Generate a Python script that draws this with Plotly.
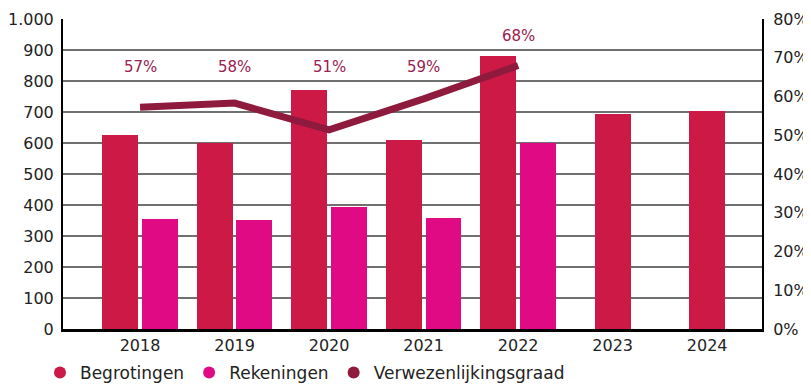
"""Begrotingen vs rekeningen met verwezenlijkingsgraad – Plotly."""

import plotly.graph_objects as go

# ── Data ──────────────────────────────────────────────────────────────────────
years = ["2018", "2019", "2020", "2021", "2022", "2023", "2024"]
begrotingen = [626, 599, 771, 610, 881, 694, 703]
rekeningen = [355, 352, 395, 358, 599, None, None]
graad_years = ["2018", "2019", "2020", "2021", "2022"]
graad = [57.2, 58.3, 51.4, 59.4, 68.0]

left_ticks = [0, 100, 200, 300, 400, 500, 600, 700, 800, 900, 1000]
left_labels = ["0", "100", "200", "300", "400", "500", "600", "700", "800", "900", "1.000"]
right_ticks = [0, 10, 20, 30, 40, 50, 60, 70, 80]

# ── Palette ───────────────────────────────────────────────────────────────────
C_BEGR = "#CC1946"
C_REK = "#E00B84"
C_GRAAD = "#8E1A3E"
FONT = "DejaVu Sans"

BAR_W = 0.38
GAP = 0.04

# the page body has an 8px margin, so the figure is 8px smaller than the window
W, H = 803, 376

xi = list(range(len(years)))
pos = {y: i for i, y in enumerate(years)}

# bars are paired when a rekening exists, otherwise centred on the year
begr_off = [(-BAR_W - GAP / 2) if r is not None else -BAR_W / 2 for r in rekeningen]
rek_x = [i for i, r in zip(xi, rekeningen) if r is not None]
rek_y = [r for r in rekeningen if r is not None]

fig = go.Figure()

fig.add_trace(
    go.Bar(
        x=xi,
        y=begrotingen,
        width=BAR_W,
        offset=begr_off,
        marker={"color": C_BEGR, "line": {"width": 0}},
        showlegend=False,
        hoverinfo="y",
    )
)
fig.add_trace(
    go.Bar(
        x=rek_x,
        y=rek_y,
        width=BAR_W,
        offset=GAP / 2,
        marker={"color": C_REK, "line": {"width": 0}},
        showlegend=False,
        hoverinfo="y",
    )
)
fig.add_trace(
    go.Scatter(
        x=[pos[y] for y in graad_years],
        y=graad,
        yaxis="y2",
        mode="lines",
        line={"color": C_GRAAD, "width": 7},
        showlegend=False,
    )
)

# percentage labels
for y, v in zip(graad_years, graad):
    fig.add_annotation(
        x=pos[y],
        y=max(v + 7.5, 67.5),
        yref="y2",
        text=f"{round(v)}%",
        showarrow=False,
        font={"family": FONT, "size": 15, "color": "#9A2150"},
    )

# legend-only entries with round symbols
for name, col in [("Begrotingen", C_BEGR), ("Rekeningen", C_REK), ("Verwezenlijkingsgraad", C_GRAAD)]:
    fig.add_trace(
        go.Scatter(
            x=[None],
            y=[None],
            mode="markers",
            name=name,
            marker={"color": col, "size": 16, "symbol": "circle"},
        )
    )

fig.update_layout(
    width=W,
    height=H,
    plot_bgcolor="white",
    paper_bgcolor="white",
    margin={"l": 55, "r": 49, "t": 11, "b": 55, "autoexpand": False},
    font={"family": FONT, "size": 16, "color": "#222"},
    bargap=0,
    legend={
        "orientation": "h",
        "x": 32 / W,
        "xref": "container",
        "xanchor": "left",
        "y": 11 / H,
        "yref": "container",
        "yanchor": "middle",
        "font": {"size": 17},
        "itemsizing": "constant",
    },
    xaxis={
        "range": [-0.815, 6.58],
        "tickmode": "array",
        "tickvals": xi,
        "ticktext": years,
        "showgrid": False,
        "showline": True,
        "linecolor": "black",
        "linewidth": 3,
        "ticks": "",
        "zeroline": False,
    },
    yaxis={
        "range": [0, 1000],
        "tickmode": "array",
        "tickvals": left_ticks,
        "ticktext": left_labels,
        "showgrid": True,
        "gridcolor": "#707070",
        "gridwidth": 1.5,
        "showline": True,
        "linecolor": "black",
        "linewidth": 2,
        "zeroline": False,
        "ticks": "",
        "ticklabelstandoff": 4,
    },
    yaxis2={
        "range": [0, 80],
        "overlaying": "y",
        "side": "right",
        "tickmode": "array",
        "tickvals": right_ticks,
        "ticktext": [f"{t}%" for t in right_ticks],
        "showgrid": False,
        "showline": True,
        "linecolor": "black",
        "linewidth": 2,
        "zeroline": False,
        "ticks": "",
        "ticklabelstandoff": 6,
    },
)

fig.write_html("out.html")
